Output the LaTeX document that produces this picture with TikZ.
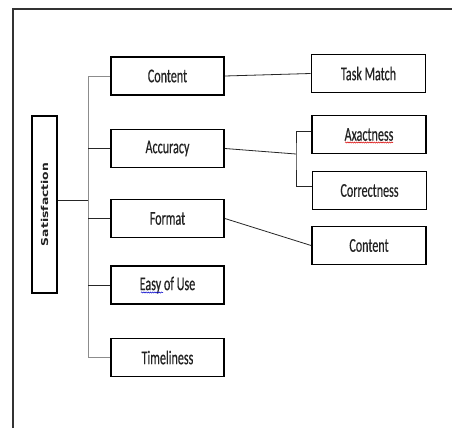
\documentclass[tikz,border=0pt]{standalone}
\usepackage{fontspec}
\usetikzlibrary{decorations.pathmorphing}
\newfontfamily\boxfont[FakeStretch=0.62,FakeBold=0.4]{Carlito}
\newfontfamily\satfont[FakeStretch=1.3]{DejaVu Sans Bold}
\definecolor{txt}{HTML}{222222}
\definecolor{trunkgray}{HTML}{8C8C8C}
\tikzset{
  box/.style={draw=black, line width=1.8pt, fill=white, minimum width=113pt, minimum height=38pt,
    inner sep=0pt, text=txt, font=\boxfont\fontsize{19.5}{20}\selectfont},
  satbox/.style={draw=black, line width=1.8pt, fill=white, minimum width=25pt, minimum height=177pt,
    inner sep=0pt},
  conn/.style={draw=black!85, line width=0.8pt},
  trunk/.style={draw=trunkgray, line width=0.9pt},
  frame/.style={draw=black!80, line width=2pt},
  squiggle/.style={decorate, decoration={snake, amplitude=0.6pt, segment length=2.2pt}, line width=0.5pt}
}
\begin{document}
\begin{tikzpicture}[x=1pt, y=-1pt]
\useasboundingbox (0,0) rectangle (452,428);
\fill[white] (0,0) rectangle (452,428);
% outer frame (top and left visible)
\coordinate (fbl) at (13,428);
\coordinate (ftl) at (13,9);
\coordinate (ftr) at (452,9);
\draw[frame] (fbl) -- (ftl) -- (ftr);

% satisfaction
\node[satbox] (sat) at (44.5,204.5) {};
\node[rotate=90, text=txt, inner sep=0pt, font=\satfont\fontsize{9.5}{10}\selectfont] (sattxt) at (sat.center) {Satisfaction};

% left column
\node[box] (content) at (167.5,76) {Content};
\node[box] (accuracy) at (167.5,148.5) {Accuracy};
\node[box] (format) at (167.5,218.5) {Format};
\node[box] (easy) at (167.5,285) {Easy of Use};
\node[box] (time) at (167.5,357.5) {Timeliness};

% right column
\node[box, minimum width=114pt] (task) at (368.5,73.5) {Task Match};
\node[box, minimum width=114pt] (axact) at (369,134.5) {Axactness};
\node[box, minimum width=114pt] (correct) at (369.5,190.5) {Correctness};
\node[box, minimum width=114pt] (content2) at (369,245.5) {Content};

% trunk
\coordinate (tk) at (88,0);
\draw[trunk] (content.west -| tk) -- (time.west -| tk);
\draw[conn] ([yshift=4.5pt]sat.east) -- ([yshift=4.5pt]sat.east -| tk);
\draw[trunk] (content.west -| tk) -- (content.west);
\draw[conn] (accuracy.west -| tk) -- (accuracy.west);
\draw[conn] (format.west -| tk) -- (format.west);
\draw[conn] (easy.west -| tk) -- (easy.west);
\draw[trunk] (time.west -| tk) -- (time.west);

% right connectors
\draw[conn] (content.east) -- (task.west);
\coordinate (br) at (296,154);
\draw[conn] (accuracy.east) -- (br);
\draw[conn] ([yshift=3.5pt]axact.west) -| (br) |- ([yshift=4.5pt]correct.west);
\draw[conn] (format.east) -- (content2.west);

% spell-check underlines
\draw[squiggle, red!85!black] (345,142.5) -- (393,142.5);
\draw[squiggle, blue!80!black] (141,292.5) -- (163,292.5);
\end{tikzpicture}
\end{document}
